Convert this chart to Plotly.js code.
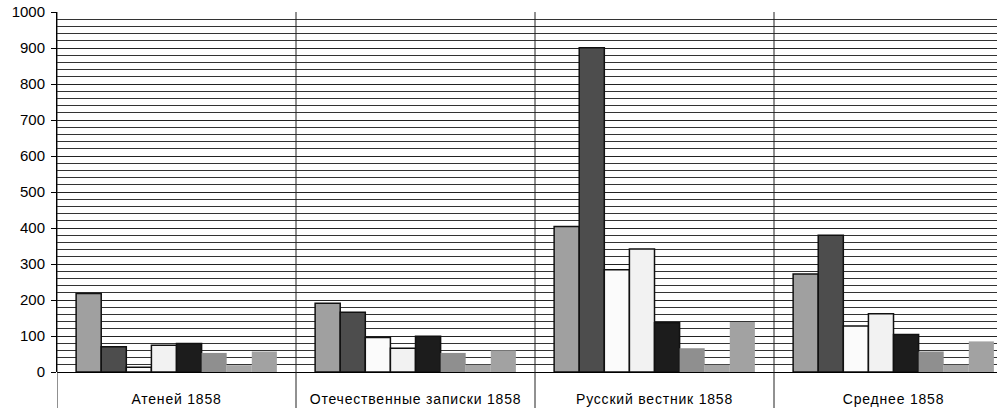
<!DOCTYPE html>
<html>
<head>
<meta charset="utf-8">
<script src="https://cdn.plot.ly/plotly-3.0.1.min.js"></script>
<style>
html,body{margin:0;padding:0;overflow:hidden;background:#fff;}
#chart{width:997px;height:408px;}
#chart .xtick text{letter-spacing:0.8px;}
</style>
</head>
<body>
<div id="chart"></div>
<script>
const categories = ["Атеней 1858", "Отечественные записки 1858", "Русский вестник 1858", "Среднее 1858"];
const series1 = [218, 191, 404, 272];
const series2 = [70, 166, 901, 380];
const series3 = [13, 96, 284, 128];
const series4 = [74, 66, 342, 162];
const series5 = [79, 99, 137, 104];
const series6 = [53, 53, 66, 57];
const series7 = [19, 20, 20, 20];
const series8 = [57, 60, 139, 85];
const yTicks = [0, 100, 200, 300, 400, 500, 600, 700, 800, 900, 1000];

const allSeries = [series1, series2, series3, series4, series5, series6, series7, series8];
const fills = ['#a0a0a0', '#4d4d4d', '#fbfbfb', '#f2f2f2', '#1c1c1c', '#8f8f8f', '#a6a6a6', '#a2a2a2'];
const outlines = [1.5, 1.5, 1.5, 1.5, 1.5, 0, 0, 0];

const traces = allSeries.map((vals, i) => ({
  type: 'bar',
  x: categories,
  y: vals,
  name: 'Ряд ' + (i + 1),
  marker: {color: fills[i], line: {color: '#111', width: outlines[i]}},
  hoverinfo: 'y'
}));

const shapes = [-0.5, 0.5, 1.5, 2.5].map(xv => ({
  type: 'line', xref: 'x', yref: 'paper', x0: xv, x1: xv, y0: -0.2, y1: 1,
  line: {color: '#222', width: 1}, layer: 'above'
}));

const layout = {
  width: 997, height: 408,
  margin: {l: 57, r: 0, t: 12, b: 36},
  paper_bgcolor: '#fff', plot_bgcolor: '#fff',
  showlegend: false,
  barmode: 'group', bargap: 0.16, bargroupgap: 0,
  font: {family: '"Liberation Sans", Arial, sans-serif', size: 14, color: '#000'},
  xaxis: {
    type: 'category',
    range: [-0.5, 3.433],
    showgrid: false, zeroline: false,
    showline: false,
    ticks: '',
    ticklabelstandoff: 17,
    tickfont: {size: 14}
  },
  yaxis: {
    range: [0, 1000],
    tickvals: yTicks,
    ticktext: yTicks.map(String),
    ticks: 'outside', ticklen: 5, tickcolor: '#000',
    ticklabelstandoff: 3,
    showline: true, linecolor: '#000', linewidth: 1,
    showgrid: true, gridcolor: '#222', gridwidth: 1,
    zeroline: true, zerolinecolor: '#000', zerolinewidth: 1,
    minor: {dtick: 20, showgrid: true, gridcolor: '#333', gridwidth: 1, ticks: ''},
    tickfont: {size: 15}
  },
  shapes: shapes
};

Plotly.newPlot('chart', traces, layout, {displayModeBar: false, staticPlot: true});
</script>
</body>
</html>
